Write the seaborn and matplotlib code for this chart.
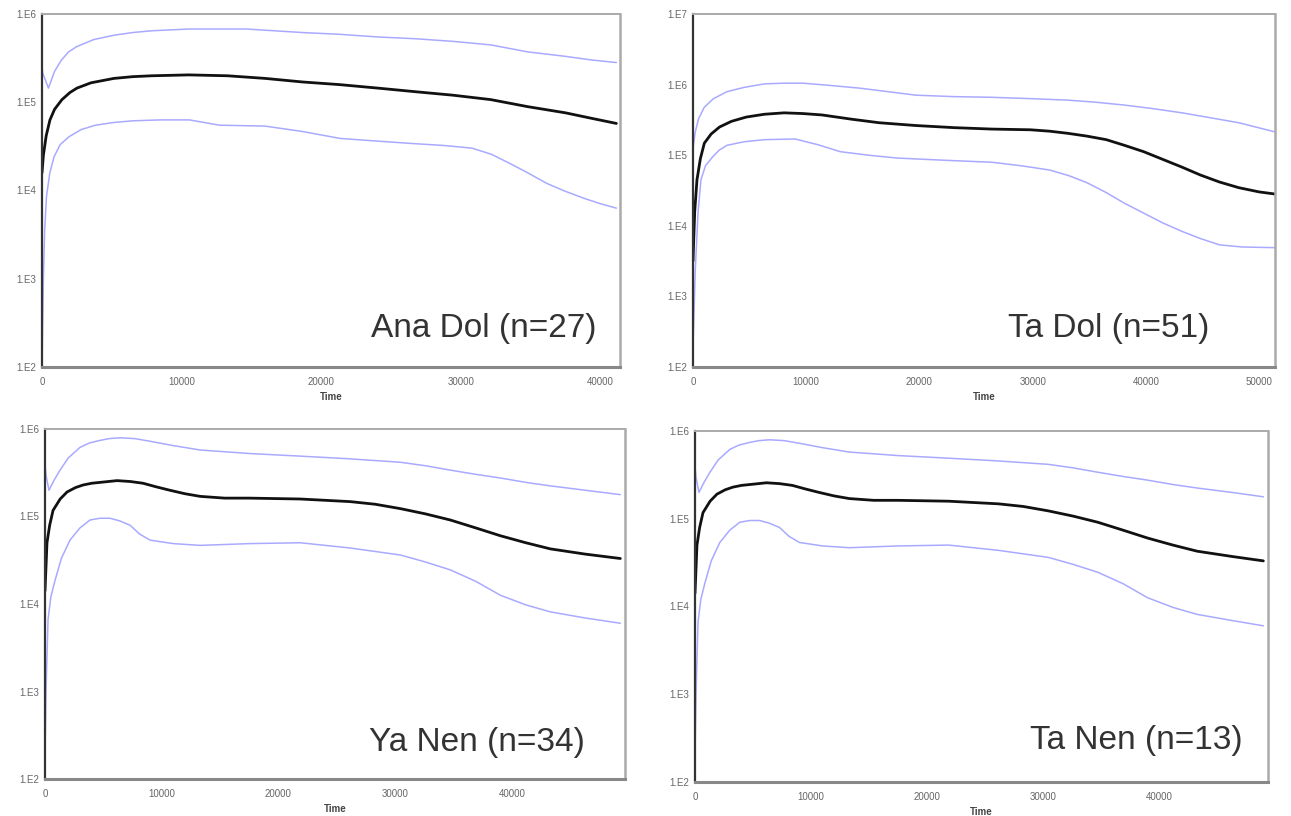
import numpy as np
import pandas as pd
import matplotlib
matplotlib.use("Agg")
import matplotlib.pyplot as plt
import seaborn as sns
from matplotlib.ticker import LogLocator, FuncFormatter, MultipleLocator, NullFormatter

# ---------------- data (log10 values) ----------------
titles = ["Ana Dol (n=27)", "Ta Dol (n=51)", "Ya Nen (n=34)", "Ta Nen (n=13)"]

# Panel 1 : Ana Dol
p1_mean_t = [0, 100, 300, 570, 900, 1430, 2000, 2500, 3500, 5140, 6500, 7860, 10500, 13290, 16000, 18640,
             21300, 24070, 26700, 29430, 32140, 34790, 37500, 39300, 41140]
p1_mean_v = [4.20, 4.40, 4.62, 4.80, 4.92, 5.03, 5.11, 5.16, 5.22, 5.27, 5.29, 5.30, 5.31, 5.30, 5.27, 5.23,
             5.20, 5.16, 5.12, 5.08, 5.03, 4.95, 4.88, 4.82, 4.76]
p1_up_t = [0, 54, 460, 900, 1400, 1900, 2480, 3700, 5170, 6500, 7870, 10560, 14610, 18640, 21300, 24030,
           26700, 29430, 32130, 34820, 37500, 39300, 41140]
p1_up_v = [5.40, 5.33, 5.16, 5.35, 5.48, 5.57, 5.63, 5.71, 5.76, 5.79, 5.81, 5.83, 5.83, 5.79, 5.77, 5.74,
           5.72, 5.69, 5.65, 5.57, 5.52, 5.48, 5.45]
p1_lo_t = [0, 100, 190, 320, 560, 860, 1300, 1940, 2800, 3830, 5100, 6520, 8500, 10560, 12720, 15960,
           18600, 21360, 24000, 26750, 28800, 30790, 32200, 33470, 34800, 36160, 37500, 38850, 40000, 41140]
p1_lo_v = [2.00, 3.00, 3.55, 3.93, 4.20, 4.38, 4.52, 4.61, 4.69, 4.74, 4.77, 4.79, 4.80, 4.80, 4.74, 4.73,
           4.67, 4.59, 4.56, 4.53, 4.51, 4.48, 4.41, 4.31, 4.20, 4.08, 3.99, 3.91, 3.85, 3.80]

# Panel 2 : Ta Dol
p2_mean_t = [0, 150, 350, 650, 1000, 1600, 2350, 3400, 4700, 6300, 8050, 9700, 11400, 14000, 16430, 19700,
             23100, 26400, 29800, 31500, 33100, 34800, 36500, 38100, 39800, 41500, 43200, 44800, 46500,
             48200, 50000, 51400]
p2_mean_v = [3.50, 4.20, 4.65, 4.95, 5.17, 5.30, 5.40, 5.48, 5.54, 5.58, 5.60, 5.59, 5.57, 5.51, 5.46, 5.42,
             5.39, 5.37, 5.36, 5.34, 5.31, 5.27, 5.22, 5.14, 5.05, 4.94, 4.83, 4.72, 4.62, 4.54, 4.48, 4.45]
p2_up_t = [0, 200, 500, 1000, 1800, 3000, 4500, 6300, 8000, 9700, 12000, 14700, 17200, 19700, 23000, 26400,
           30000, 33100, 35600, 38100, 40600, 43200, 45700, 48200, 51400]
p2_up_v = [5.10, 5.33, 5.52, 5.68, 5.80, 5.90, 5.96, 6.01, 6.02, 6.02, 5.99, 5.95, 5.90, 5.85, 5.83, 5.82,
           5.80, 5.78, 5.75, 5.71, 5.66, 5.60, 5.53, 5.46, 5.33]
p2_lo_t = [0, 200, 450, 700, 1100, 1700, 2300, 3000, 4500, 6300, 9000, 11000, 13000, 15500, 18000, 22000,
           26400, 29000, 31500, 33200, 34800, 36500, 38100, 39800, 41500, 43200, 44800, 46500, 48500, 51400]
p2_lo_v = [2.30, 3.37, 4.20, 4.65, 4.85, 4.97, 5.07, 5.14, 5.19, 5.22, 5.23, 5.15, 5.05, 5.00, 4.96, 4.93,
           4.90, 4.85, 4.79, 4.71, 4.61, 4.47, 4.32, 4.18, 4.04, 3.92, 3.82, 3.73, 3.70, 3.69]

# Panel 3 : Ya Nen
p3_mean_t = [0, 170, 400, 690, 1300, 1890, 2600, 3260, 4000, 4720, 6170, 7300, 8400, 9500, 10700, 12000,
             13300, 15400, 17500, 21870, 26160, 28300, 30450, 32600, 34730, 36900, 39020, 41200, 43300,
             46300, 49300]
p3_mean_v = [4.15, 4.70, 4.90, 5.07, 5.20, 5.28, 5.33, 5.36, 5.38, 5.39, 5.41, 5.40, 5.38, 5.34, 5.30, 5.26,
             5.23, 5.21, 5.21, 5.20, 5.17, 5.14, 5.09, 5.03, 4.96, 4.87, 4.78, 4.70, 4.63, 4.57, 4.52]
p3_up_t = [0, 90, 340, 800, 1290, 2000, 3000, 3800, 4720, 5500, 6430, 7700, 9000, 11000, 13300, 17500,
           21870, 26000, 30450, 32600, 34730, 37000, 39020, 41200, 43300, 46300, 49300]
p3_up_v = [5.60, 5.47, 5.30, 5.42, 5.53, 5.67, 5.79, 5.84, 5.87, 5.89, 5.90, 5.89, 5.86, 5.81, 5.76, 5.72,
           5.69, 5.66, 5.62, 5.58, 5.53, 5.48, 5.44, 5.39, 5.35, 5.30, 5.25]
p3_lo_t = [0, 90, 260, 500, 860, 1400, 2140, 3000, 3860, 4700, 5570, 6400, 7290, 8100, 9000, 11000, 13300,
           17500, 21870, 24000, 26160, 28300, 30450, 32600, 34730, 36900, 39020, 41200, 43300, 46300, 49300]
p3_lo_v = [2.30, 3.02, 3.82, 4.08, 4.27, 4.52, 4.73, 4.87, 4.96, 4.98, 4.98, 4.95, 4.90, 4.80, 4.73, 4.69,
           4.67, 4.69, 4.70, 4.67, 4.64, 4.60, 4.56, 4.48, 4.39, 4.26, 4.10, 3.99, 3.91, 3.84, 3.78]

# Panel 4 : Ta Nen
p4_mean_t = [0, 170, 400, 690, 1300, 1890, 2600, 3260, 4000, 4720, 6170, 7300, 8400, 9500, 10700, 12000,
             13300, 15400, 17500, 21870, 26160, 28300, 30450, 32600, 34730, 36900, 39020, 41200, 43300,
             46300, 49000]
p4_mean_v = [4.15, 4.70, 4.90, 5.07, 5.20, 5.28, 5.33, 5.36, 5.38, 5.39, 5.41, 5.40, 5.38, 5.34, 5.30, 5.26,
             5.23, 5.21, 5.21, 5.20, 5.17, 5.14, 5.09, 5.03, 4.96, 4.87, 4.78, 4.70, 4.63, 4.57, 4.52]
p4_up_t = [0, 90, 340, 800, 1290, 2000, 3000, 3800, 4720, 5500, 6430, 7700, 9000, 11000, 13300, 17500,
           21870, 26000, 30450, 32600, 34730, 37000, 39020, 41200, 43300, 46300, 49000]
p4_up_v = [5.60, 5.47, 5.30, 5.42, 5.53, 5.67, 5.79, 5.84, 5.87, 5.89, 5.90, 5.89, 5.86, 5.81, 5.76, 5.72,
           5.69, 5.66, 5.62, 5.58, 5.53, 5.48, 5.44, 5.39, 5.35, 5.30, 5.25]
p4_lo_t = [0, 90, 260, 500, 860, 1400, 2140, 3000, 3860, 4700, 5570, 6400, 7290, 8100, 9000, 11000, 13300,
           17500, 21870, 24000, 26160, 28300, 30450, 32600, 34730, 36900, 39020, 41200, 43300, 46300, 49000]
p4_lo_v = [2.30, 3.02, 3.82, 4.08, 4.27, 4.52, 4.73, 4.87, 4.96, 4.98, 4.98, 4.95, 4.90, 4.80, 4.73, 4.69,
           4.67, 4.69, 4.70, 4.67, 4.64, 4.60, 4.56, 4.48, 4.39, 4.26, 4.10, 3.99, 3.91, 3.84, 3.78]

x_max = [41400, 51400, 49700, 49400]
y_top_exp = [6, 7, 6, 6]
x_ticks = [[0, 10000, 20000, 30000, 40000],
           [0, 10000, 20000, 30000, 40000, 50000],
           [0, 10000, 20000, 30000, 40000],
           [0, 10000, 20000, 30000, 40000]]

panels = [
    (p1_mean_t, p1_mean_v, p1_up_t, p1_up_v, p1_lo_t, p1_lo_v),
    (p2_mean_t, p2_mean_v, p2_up_t, p2_up_v, p2_lo_t, p2_lo_v),
    (p3_mean_t, p3_mean_v, p3_up_t, p3_up_v, p3_lo_t, p3_lo_v),
    (p4_mean_t, p4_mean_v, p4_up_t, p4_up_v, p4_lo_t, p4_lo_v),
]

# ---------------- layout ----------------
sns.set_style("white")
plt.rcParams['font.family'] = ['Liberation Sans', 'DejaVu Sans']

W, H = 1291, 816
fig = plt.figure(figsize=(W / 100, H / 100), dpi=100)

# pixel boxes: left, top, right, bottom
boxes = [(42, 14, 620, 367), (693, 14, 1275, 367), (45, 429, 625, 779), (695, 431, 1268, 782)]
text_pos = [(0.960, 0.11), (0.888, 0.11), (0.931, 0.104), (0.955, 0.118)]

blue = '#a9aaff'
for i, (box, pdata) in enumerate(zip(boxes, panels)):
    l, t, r, b = box
    ax = fig.add_axes([l / W, 1 - b / H, (r - l) / W, (b - t) / H])
    mt, mv, ut, uv, lt, lv = pdata
    for tt, vv, col, lw in [(ut, uv, blue, 1.1), (lt, lv, blue, 1.1), (mt, mv, '#111111', 2.0)]:
        df = pd.DataFrame({'t': tt, 'v': 10 ** np.array(vv)})
        sns.lineplot(data=df, x='t', y='v', ax=ax, color=col, lw=lw,
                     estimator=None, sort=False, legend=False)
    ax.set_yscale('log')
    ax.set_ylim(1e2, 10 ** y_top_exp[i])
    ax.set_xlim(0, x_max[i])
    ax.set_xticks(x_ticks[i])
    ax.xaxis.set_minor_locator(MultipleLocator(5000))
    ax.yaxis.set_major_locator(LogLocator(base=10, numticks=20))
    ax.yaxis.set_minor_locator(LogLocator(base=10, subs=np.arange(2, 10), numticks=100))
    ax.yaxis.set_minor_formatter(NullFormatter())
    ax.yaxis.set_major_formatter(FuncFormatter(lambda v, p: "1.E%d" % int(round(np.log10(v)))))
    ax.tick_params(axis='both', which='major', labelsize=7, colors='#555555',
                   labelcolor='#666666', length=3, width=1, direction='out', pad=1)
    ax.tick_params(axis='x', which='major', pad=4)
    ax.tick_params(axis='both', which='minor', length=2, width=1, colors='#444444', direction='inout')
    ax.set_xlabel('Time', fontsize=7, fontweight='bold', color='#444444', labelpad=4)
    ax.set_ylabel('')
    ax.spines['left'].set_color('#333333')
    ax.spines['left'].set_linewidth(1.6)
    ax.spines['bottom'].set_color('#888888')
    ax.spines['bottom'].set_linewidth(2.2)
    ax.spines['top'].set_color('#aaaaaa')
    ax.spines['top'].set_linewidth(1.4)
    ax.spines['right'].set_color('#aaaaaa')
    ax.spines['right'].set_linewidth(1.8)
    ax.grid(False)
    ax.text(text_pos[i][0], text_pos[i][1], titles[i], transform=ax.transAxes,
            ha='right', va='center', fontsize=24, color='#333333')

fig.savefig('out.png', dpi=100, facecolor='white')
